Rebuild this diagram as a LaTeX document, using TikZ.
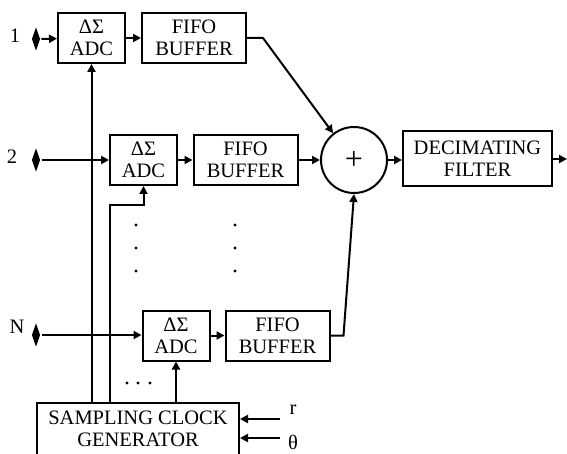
\documentclass[tikz,border=0pt]{standalone}
\usepackage{fontspec}
\setmainfont{Liberation Serif}
\usetikzlibrary{arrows.meta,shapes.geometric}

\begin{document}
\begin{tikzpicture}[x=1pt,y=-1pt,>={Triangle[length=8pt,width=8pt]},line width=2pt,
  blk/.style={draw,rectangle,align=center,inner sep=0pt,font=\fontsize{20.5}{22}\selectfont},
  adc/.style={blk,minimum width=67pt,minimum height=50pt},
  fifo/.style={blk,minimum width=104pt,minimum height=50pt},
  src/.style={diamond,fill,inner sep=0pt,minimum width=9pt,minimum height=24pt},
  lbl/.style={font=\fontsize{20.5}{22}\selectfont}]
\useasboundingbox (0,0) rectangle (567,454);
\clip (0,0) rectangle (567,454);
% inputs
\node[src] (in1) at (36,39) {};
\node[src] (in2) at (36,160) {};
\node[src] (inN) at (36,335) {};
\node[lbl] (n1) at (15,36) {1};
\node[lbl] (n2) at (12,157) {2};
\node[lbl] (nN) at (17,327) {N};
% channels
\node[adc] (adc1) at (91.5,38) {ΔΣ\\ADC};
\node[fifo] (fifo1) at (194,38) {FIFO\\BUFFER};
\node[adc] (adc2) at (143.5,160) {ΔΣ\\ADC};
\node[fifo] (fifo2) at (245.5,160) {FIFO\\BUFFER};
\node[adc] (adcN) at (176,335.5) {ΔΣ\\ADC};
\node[fifo] (fifoN) at (277.5,335.5) {FIFO\\BUFFER};
\node[draw,circle,minimum size=66pt,inner sep=0pt,font=\fontsize{32}{32}\selectfont] (sum) at (354,160) {+};
\node[blk,minimum width=149pt,minimum height=55pt] (filt) at (477.5,159) {DECIMATING\\FILTER};
\node[blk,minimum width=202pt,minimum height=52pt] (clk) at (138,429) {SAMPLING CLOCK\\GENERATOR};
\node[lbl] (r) at (293,410) {r};
\node[lbl] (th) at (293,442) {θ};
\draw[->] (in1) -- (adc1); \draw[->] (in2) -- (in2 -| adc2.west); \draw[->] (inN) -- (inN -| adcN.west);
\draw[->] (adc1) -- (fifo1); \draw[->] (adc2) -- (fifo2); \draw[->] (adcN) -- (fifoN);
\draw[->] (fifo1.east) -- ++(16,0) -- (sum.128);
\draw[->] (fifo2) -- (sum);
\draw[->] (fifoN.east) -- ++(13,0) -- (sum.south);
\draw[->] (sum.east) -- (sum.east -| filt.west);
\coordinate (out) at (567,159);
\draw[->] (filt.east) -- (out);
% clock lines
\coordinate (bend) at (110,205);
\draw[->] (clk.north -| adc1.south) -- (adc1.south);
\draw[->] (bend |- clk.north) -- (bend) -| (adc2.south);
\draw[->] (clk.north -| adcN.south) -- (adcN.south);
\coordinate (rin) at (280,419); \coordinate (thin) at (280,438);
\draw[->] (rin) -- (rin -| clk.east);
\draw[->] (thin) -- (thin -| clk.east);
% dots
\foreach \x in {136,235} \foreach \y in {225,248,271} \fill (\x,\y) circle (1.6pt);
\foreach \x in {127,138,150} \fill (\x,383) circle (1.6pt);
\end{tikzpicture}
\end{document}
